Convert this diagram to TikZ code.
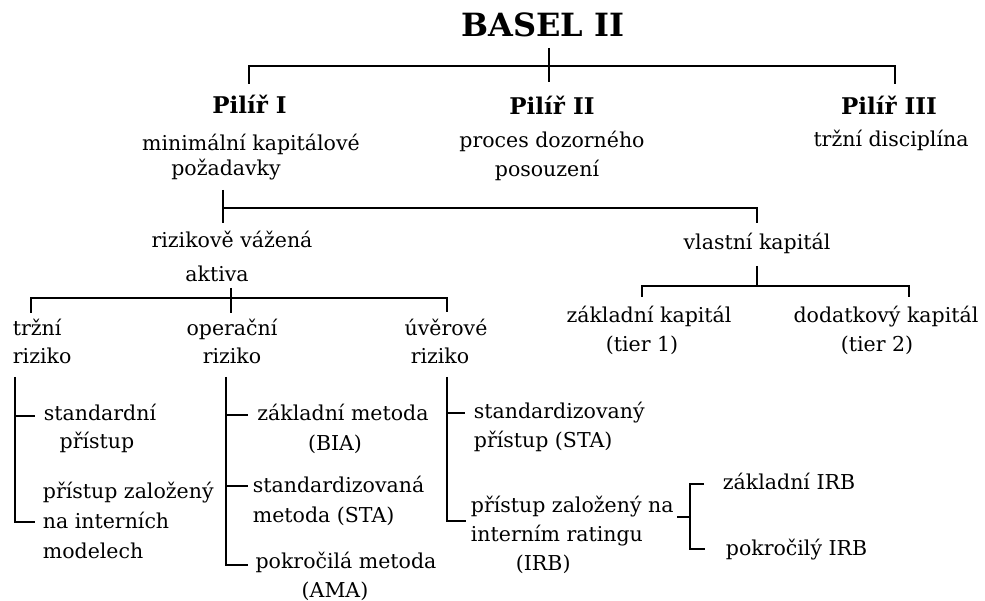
\documentclass[tikz,border=0pt]{standalone}
\usepackage{fontspec}
\setmainfont{DejaVu Serif}
\usepackage{tikz}
\usetikzlibrary{calc}
\tikzstyle{ttl} = [anchor=base, font=\bfseries\fontsize{32}{36}\selectfont]
\tikzstyle{pil} = [anchor=base, font=\bfseries\fontsize{23}{26}\selectfont]
\tikzstyle{cb} = [align=center, anchor=base]
\tikzstyle{lb} = [align=left, anchor=base west]

\begin{document}
\begin{tikzpicture}
  [x=1pt, y=-1pt,
  every node/.style={inner sep=0pt, font=\fontsize{20.5}{28}\selectfont},
  line width=1.8pt
  ]
  \useasboundingbox (0,0) rectangle (985,601);
  % title and pillars (multi-line texts sit on their last baseline)
  \draw (543,37) node[ttl](basel){BASEL II};
  \draw (249.5,114) node[pil](p1){Pilíř I};
  \draw (552,115) node[pil](p2){Pilíř II};
  \draw (889,115) node[pil](p3){Pilíř III};
  \draw (251,176) node[cb, font=\fontsize{20.5}{25}\selectfont](p1t){minimální kapitálové\\požadavky\hspace*{50pt}};
  \draw (552,177) node[cb, font=\fontsize{20.5}{29}\selectfont](p2t){proces dozorného\\posouzení\hspace*{10pt}};
  \draw (891,147) node[cb](p3t){tržní disciplína};
  % second level
  \draw (232,282) node[cb, font=\fontsize{20.5}{34}\selectfont](rva){rizikově vážená\\aktiva\hspace*{30pt}};
  \draw (757,250) node[cb](vk){vlastní kapitál};
  \draw (649,352) node[cb, font=\fontsize{20.5}{29}\selectfont](zk){základní kapitál\\(tier 1)\hspace*{14pt}};
  \draw (886,352) node[cb, font=\fontsize{20.5}{29}\selectfont](dk){dodatkový kapitál\\(tier 2)\hspace*{18pt}};
  % risks
  \draw (12,363) node[lb](tr){tržní\\riziko};
  \draw (232,363) node[cb](or){operační\\riziko};
  \draw (446,363) node[cb](ur){úvěrové\\riziko\hspace*{12pt}};
  % methods
  \draw (100,448) node[cb](tr1){standardní\\přístup\hspace*{6pt}};
  \draw (42,558) node[lb, font=\fontsize{20.5}{30}\selectfont](tr2){přístup založený\\na interních\\modelech};
  \draw (343,450) node[cb, font=\fontsize{20.5}{30}\selectfont](or1){základní metoda\\(BIA)\hspace*{16pt}};
  \draw (252,522) node[lb, font=\fontsize{20.5}{30}\selectfont](or2){standardizovaná\\metoda (STA)};
  \draw (346,597) node[cb, font=\fontsize{20.5}{29}\selectfont](or3){pokročilá metoda\\(AMA)\hspace*{22pt}};
  \draw (473,447) node[lb, font=\fontsize{20.5}{29}\selectfont](ur1){standardizovaný\\přístup (STA)};
  \draw (470,570) node[lb, font=\fontsize{20.5}{29}\selectfont](ur2){přístup založený na\\interním ratingu\\\hspace*{45pt}(IRB)};
  \draw (722,489) node[lb](irb1){základní IRB};
  \draw (725,555) node[lb](irb2){pokročilý IRB};
  % bracket points
  \coordinate (b0) at (549,48);  \coordinate (b1) at (549,82);
  \coordinate (q1) at (249,84);  \coordinate (q3) at (895,66);  \coordinate (q4) at (895,84);
  \coordinate (d0) at (223,190); \coordinate (d1) at (223,223);
  \coordinate (d2) at (223,208); \coordinate (d3) at (757,223);
  \coordinate (r0) at (231,288); \coordinate (r1) at (231,313);
  \coordinate (r2) at (31,313);  \coordinate (r3) at (447,298); \coordinate (r4) at (447,312);
  \coordinate (k0) at (757,266); \coordinate (k1) at (757,286);
  \coordinate (k2) at (642,297); \coordinate (k3) at (909,286); \coordinate (k4) at (909,297);
  \coordinate (t0) at (15,377);  \coordinate (t1) at (35,522);
  \coordinate (t2) at (15,416);  \coordinate (t3) at (35,416);
  \coordinate (o0) at (226,377); \coordinate (o1) at (248,565);
  \coordinate (o2) at (226,415); \coordinate (o3) at (248,415);
  \coordinate (o4) at (226,486); \coordinate (o5) at (248,486);
  \coordinate (u0) at (447,377); \coordinate (u1) at (466,521);
  \coordinate (u2) at (447,413); \coordinate (u3) at (465,413);
  \coordinate (i0) at (704,484); \coordinate (i1) at (690,549); \coordinate (i2) at (705,549);
  \coordinate (i3) at (677,517); \coordinate (i4) at (690,517);
  % connectors
  \draw (q1) |- (q3) -- (q4);
  \draw (d2) -| (d3);
  \draw (r2) |- (r3) -- (r4);
  \draw (k2) |- (k3) -- (k4);
  \draw (i0) -| (i1) -- (i2);
  \foreach \from/\to in {t0/t1,o0/o1,u0/u1}
  \draw (\from) |- (\to);
  \foreach \from/\to in {b0/b1,d0/d1,r0/r1,k0/k1,t2/t3,o2/o3,o4/o5,u2/u3,i3/i4}
  \draw (\from) -- (\to);
\end{tikzpicture}
\end{document}
